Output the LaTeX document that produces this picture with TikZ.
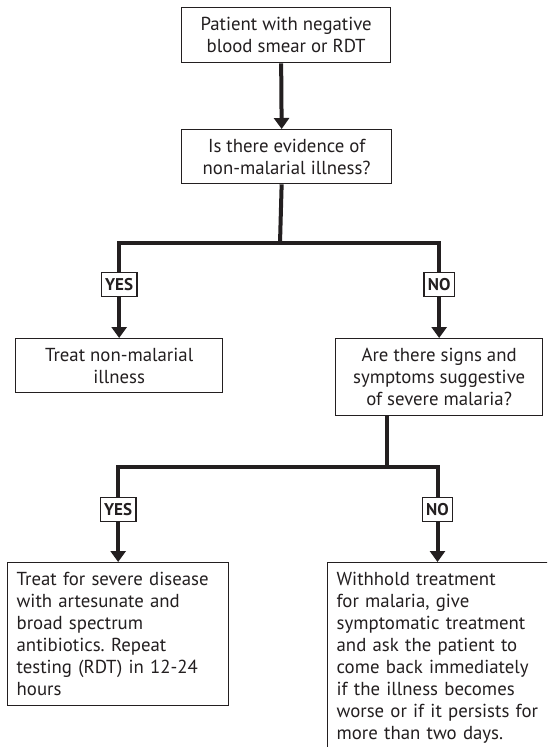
\documentclass[tikz,border=0pt]{standalone}
\usepackage{fontspec}
\setmainfont{PT Sans}
\frenchspacing
\usetikzlibrary{arrows.meta}
\definecolor{ink}{HTML}{231F20}
\tikzset{
  box/.style={draw=ink, line width=1.3pt, text=ink, font=\fontsize{18.8}{22}\selectfont, align=center, inner sep=0pt, anchor=north west},
  leftbox/.style={draw=ink, line width=1.3pt, text=ink, font=\fontsize{18.8}{22}\selectfont, align=left, inner xsep=9pt, inner ysep=9.5pt, anchor=north west},
  flow/.style={line width=4pt, draw=ink, -{Triangle[width=15pt,length=11pt]}},
  link/.style={line width=4pt, draw=ink},
  lab/.style={draw=ink, fill=white, line width=1.3pt, text=ink, font=\bfseries\fontsize{17}{20}\selectfont, minimum height=24pt, inner xsep=4pt, inner ysep=0pt}
}
\begin{document}
\begin{tikzpicture}[x=1pt,y=-1pt]
\useasboundingbox (0,0) rectangle (547,747);
\clip (0,0) rectangle (547,747);
\fill[white] (0,0) rectangle (547,747);

\node[box, minimum width=209pt, minimum height=55pt] (b1) at (181,7) {Patient with negative\\blood smear or RDT};
\node[box, minimum width=210pt, minimum height=54pt] (q1) at (181,129) {Is there evidence of\\non-malarial illness?};
\node[box, minimum width=207pt, minimum height=54pt] (t1) at (15,338) {Treat non-malarial\\illness};
\node[box, minimum width=207pt, minimum height=77pt] (r1) at (335,338) {Are there signs and\\symptoms suggestive\\of severe malaria?};
\node[leftbox, text width=203pt] (t2) at (7,562) {Treat for severe disease\\with artesunate and\\broad spectrum\\antibiotics. Repeat\\testing (RDT) in 12-24\\hours};
\node[leftbox, text width=211pt] (w2) at (327,562) {Withhold treatment\\for malaria, give\\symptomatic treatment\\and ask the patient to\\come back immediately\\if the illness becomes\\worse or if it persists for\\more than two days.};

\coordinate (j1) at (280,243);
\coordinate (j2) at (387,467);
\coordinate (n2) at (437.5,467);

\draw[flow] ([xshift=-5pt]b1.south) -- ([xshift=-5pt]q1.north);
\draw[link] ([xshift=-5pt]q1.south) -- (j1);
\draw[flow] (j1) -| node[lab, pos=0.72] (y1) {YES} (t1.north);
\draw[flow] (j1) -| node[lab, pos=0.72] (n1) {NO} (r1.north);
\draw[link] (r1.south -| j2) -- (j2);
\draw[flow] (j2) -| node[lab, pos=0.725] (y2) {YES} (t2.north);
\draw[flow] (j2) -- (n2) -- node[lab, pos=0.45] (no2) {NO} (w2.north -| n2);
\end{tikzpicture}
\end{document}
